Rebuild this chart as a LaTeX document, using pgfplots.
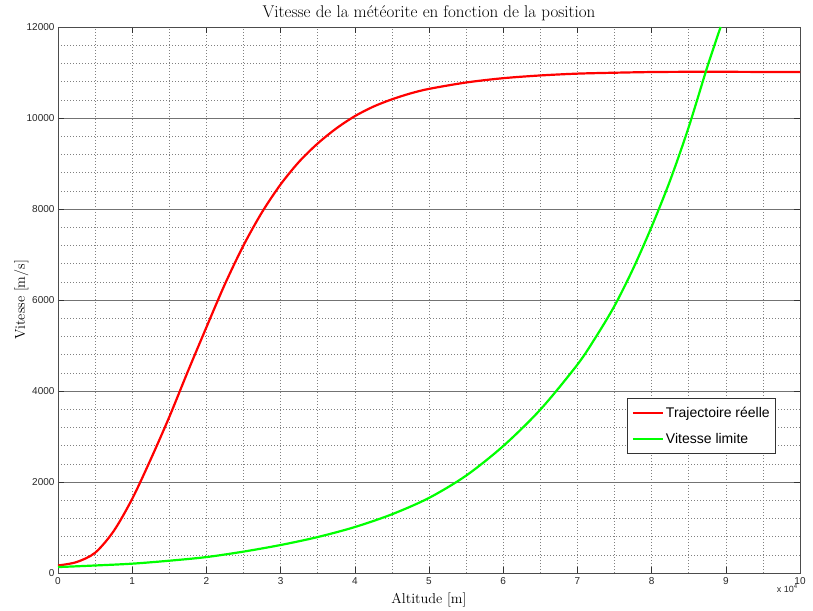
\documentclass[border=0pt]{standalone}
\usepackage{fontspec}
\newfontfamily\arial{Liberation Sans}
\usepackage{pgfplots}
\pgfplotsset{compat=1.18}
\pgfplotstableread{
x y
0 165
2500 240
5000 445
7500 920
10000 1630
12500 2500
15000 3430
17500 4430
20000 5400
22500 6350
25000 7200
27500 7930
30000 8540
32500 9040
35000 9440
37500 9770
40000 10040
42500 10250
45000 10410
47500 10540
50000 10640
55000 10780
60000 10875
65000 10935
70000 10975
75000 10995
80000 11010
85000 11015
90000 11015
95000 11012
100000 11010
}\reelle
\pgfplotstableread{
x y
0 130
5000 165
10000 205
15000 270
20000 350
25000 470
30000 615
35000 790
40000 1010
45000 1290
50000 1650
55000 2140
60000 2790
65000 3590
70000 4580
72500 5190
75000 5870
77500 6685
80000 7610
82500 8630
85000 9800
87500 11120
89300 12000
}\limite
\begin{document}
\begin{tikzpicture}
\useasboundingbox (0,0) rectangle (813pt,610pt);
\begin{axis}[
  at={(58pt,37pt)}, anchor=south west,
  scale only axis, width=742pt, height=546pt,
  xmin=0, xmax=100000, ymin=0, ymax=12000,
  xtick={0,10000,...,100000},
  ytick={0,2000,...,12000},
  scaled x ticks=base 10:-4,
  scaled y ticks=false,
  /pgf/number format/1000 sep={},
  /pgf/number format/assume math mode=true,
  xtick scale label code/.code={{\arial x 10\textsuperscript{#1}}},
  every x tick scale label/.style={at={(rel axis cs:1,0)}, anchor=north east, yshift=-10pt, xshift=-2pt, inner sep=0pt, font=\arial\fontsize{9}{10}\selectfont},
  minor x tick num=1, minor y tick num=4,
  tick align=inside,
  major tick length=6pt, minor tick length=0pt,
  tick style={black!80, line width=0.6pt},
  axis line style={black!70, line width=0.8pt},
  grid=both,
  major x grid style={black!50, line width=0.5pt, dash pattern=on 1pt off 2pt},
  minor grid style={black!50, line width=0.5pt, dash pattern=on 1pt off 2pt},
  major y grid style={black!55, solid, line width=0.9pt},
  ticklabel style={font=\arial\fontsize{10}{11}\selectfont, text=black!85},
  xticklabel style={yshift=-1pt},
  title={Vitesse de la météorite en fonction de la position},
  title style={at={(0.5,1)}, anchor=base, yshift=3pt, font=\fontsize{17}{20}\selectfont},
  xlabel={Altitude [m]},
  xlabel style={at={(0.5,0)}, anchor=base, yshift=-30pt, font=\fontsize{14.3}{16}\selectfont},
  ylabel={Vitesse [m/s]},
  ylabel style={at={(0,0.5)}, anchor=base, yshift=33pt, font=\fontsize{14.3}{16}\selectfont},
  legend style={at={(0.9677,0.218)}, anchor=south east, draw=black!80, line width=0.6pt,
    font=\arial\fontsize{14}{16}\selectfont, inner xsep=4pt, inner ysep=7pt, row sep=10pt,
    cells={anchor=west}},
  legend image code/.code={\draw[#1, line width=2.2pt] (0pt,0pt) -- (30pt,0pt);},
]
\addplot[red, line width=2.2pt, smooth] table[x=x, y=y] {\reelle};
\addlegendentry{Trajectoire réelle}
\addplot[green, line width=2.2pt, smooth] table[x=x, y=y] {\limite};
\addlegendentry{Vitesse limite}
\end{axis}
\end{tikzpicture}
\end{document}
